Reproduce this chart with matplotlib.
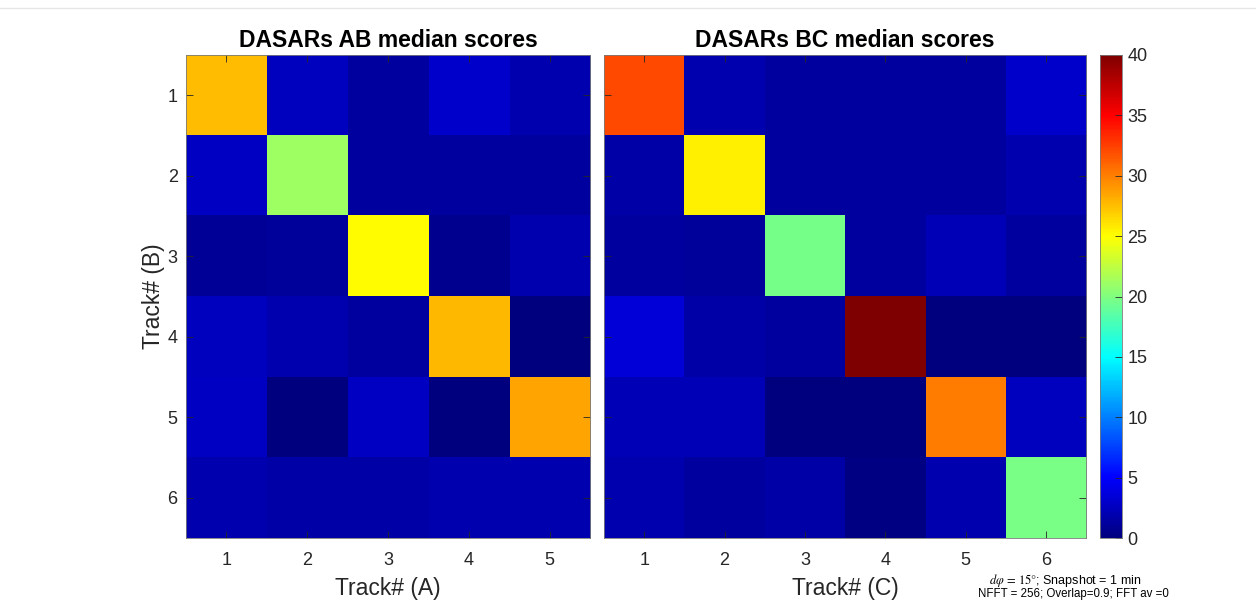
import numpy as np
import matplotlib.pyplot as plt
from matplotlib.colors import LinearSegmentedColormap
from matplotlib.lines import Line2D

# median scores (rows = Track# B, cols = Track# A / C)
ab_scores = np.array([
    [27.5, 2.5, 1.3, 3.0, 1.9],
    [2.8, 21.2, 1.3, 1.3, 1.3],
    [1.0, 1.2, 25.0, 0.7, 1.9],
    [2.5, 2.0, 1.3, 27.8, 0.0],
    [2.8, 0.0, 2.7, 0.1, 28.5],
    [1.9, 1.6, 1.6, 1.9, 1.9],
])
bc_scores = np.array([
    [32.1, 1.9, 1.4, 1.4, 1.4, 3.0],
    [1.6, 25.6, 1.4, 1.3, 1.4, 2.0],
    [1.4, 1.1, 19.6, 1.4, 2.2, 1.4],
    [3.5, 1.7, 1.3, 40.0, 0.0, 0.0],
    [2.2, 2.2, 0.0, 0.0, 30.0, 2.5],
    [1.9, 1.3, 1.6, 0.3, 1.9, 19.8],
])
tracks_b = [1, 2, 3, 4, 5, 6]
tracks_a = [1, 2, 3, 4, 5]
tracks_c = [1, 2, 3, 4, 5, 6]
cbar_ticks = [0, 5, 10, 15, 20, 25, 30, 35, 40]

plt.rcParams['font.family'] = ['Liberation Sans', 'DejaVu Sans']
plt.rcParams['mathtext.fontset'] = 'stix'

# MATLAB-style jet
jet = LinearSegmentedColormap('matlab_jet', {
    'red':   [(0, 0, 0), (3/8, 0, 0), (5/8, 1, 1), (7/8, 1, 1), (1, 0.5, 0.5)],
    'green': [(0, 0, 0), (1/8, 0, 0), (3/8, 1, 1), (5/8, 1, 1), (7/8, 0, 0), (1, 0, 0)],
    'blue':  [(0, 0.5, 0.5), (1/8, 1, 1), (3/8, 1, 1), (5/8, 0, 0), (1, 0, 0)],
}, N=256)

fig = plt.figure(figsize=(12.56, 6.01), dpi=100)
ax1 = fig.add_axes([0.1481, 0.1048, 0.3217, 0.8037])
ax2 = fig.add_axes([0.4809, 0.1048, 0.3838, 0.8037])
cax = fig.add_axes([0.8758, 0.1048, 0.0175, 0.8037])

tick_col = '#262626'

def draw_panel(ax, data, xt, title, xlabel):
    im = ax.imshow(data, cmap=jet, vmin=0, vmax=40, aspect='auto',
                   extent=[0.5, len(xt) + 0.5, len(tracks_b) + 0.5, 0.5],
                   interpolation='nearest')
    ax.set_xticks(xt)
    ax.set_yticks(tracks_b)
    ax.tick_params(direction='in', top=True, right=True, length=5,
                   width=0.6, color=tick_col, labelsize=13, labelcolor=tick_col)
    ax.tick_params(axis='x', pad=10)
    ax.tick_params(axis='y', pad=6)
    for s in ax.spines.values():
        s.set_color('#7a7a7a')
        s.set_linewidth(0.6)
    ax.set_title(title, fontsize=16.5, fontweight='bold', pad=6)
    ax.set_xlabel(xlabel, fontsize=16.5, color=tick_col, labelpad=6)
    return im

im = draw_panel(ax1, ab_scores, tracks_a, 'DASARs AB median scores', 'Track# (A)')
ax1.set_ylabel('Track# (B)', fontsize=16.5, color=tick_col, labelpad=2)
draw_panel(ax2, bc_scores, tracks_c, 'DASARs BC median scores', 'Track# (C)')
ax2.set_yticklabels([])

cb = fig.colorbar(im, cax=cax, ticks=cbar_ticks)
cb.ax.tick_params(direction='in', length=5, width=0.6, color=tick_col,
                  labelsize=13, labelcolor=tick_col, pad=4)
cb.outline.set_edgecolor('#7a7a7a')
cb.outline.set_linewidth(0.6)

fig.text(0.848, 0.034, r'$d\varphi\,=\,15°$; Snapshot = 1 min', ha='center',
         va='center', fontsize=9)
fig.text(0.855, 0.011, 'NFFT = 256; Overlap=0.9; FFT av =0', ha='center',
         va='center', fontsize=8.3)

fig.add_artist(Line2D([0.0, 1.0], [0.986, 0.986], transform=fig.transFigure,
                      color='#e6e6e6', linewidth=1))

fig.savefig('out.png', dpi=100)
